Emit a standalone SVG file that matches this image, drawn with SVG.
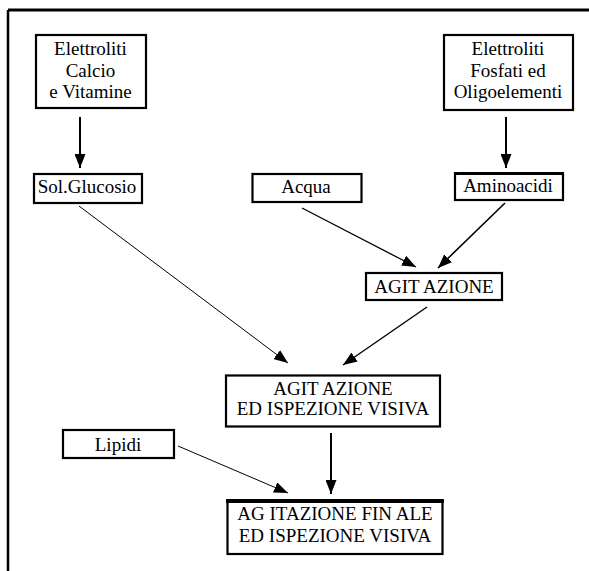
<svg xmlns="http://www.w3.org/2000/svg" width="589" height="571" viewBox="0 0 589 571">
<style>
.box{fill:#fff;stroke:#000;stroke-width:2.2}
text{font-family:'Liberation Serif','Times New Roman',Times,serif;font-size:19px;fill:#000;text-anchor:middle}
.c{stroke:#000;fill:none}
</style>
<defs>
<marker id="ah" viewBox="0 0 14 11" refX="14" refY="5.5" markerWidth="14" markerHeight="11" markerUnits="userSpaceOnUse" orient="auto">
<path d="M0,0 L14,5.5 L0,11 Z" fill="#000"/>
</marker>
</defs>
<rect width="589" height="571" fill="#fff"/>
<g id="frame">
<line x1="8" y1="10" x2="589" y2="10" stroke="#000" stroke-width="3"/>
<line x1="8" y1="10" x2="8" y2="571" stroke="#000" stroke-width="2.5"/>
</g>
<g id="connectors">
<line class="c" x1="80" y1="117" x2="80" y2="168" stroke-width="2" marker-end="url(#ah)"/>
<line class="c" x1="506" y1="117" x2="506" y2="168" stroke-width="2" marker-end="url(#ah)"/>
<line class="c" x1="79" y1="206" x2="288" y2="363" stroke-width="1" marker-end="url(#ah)"/>
<line class="c" x1="302" y1="208" x2="416" y2="267" stroke-width="1.3" marker-end="url(#ah)"/>
<line class="c" x1="505" y1="203" x2="438" y2="268" stroke-width="1.6" marker-end="url(#ah)"/>
<line class="c" x1="427" y1="307" x2="343" y2="365" stroke-width="1.4" marker-end="url(#ah)"/>
<line class="c" x1="331" y1="433" x2="331" y2="494" stroke-width="2" marker-end="url(#ah)"/>
<line class="c" x1="178" y1="446" x2="288" y2="493" stroke-width="1" marker-end="url(#ah)"/>
</g>
<g id="n-elettroliti-calcio">
<rect class="box" x="36" y="35" width="110" height="73"/>
<text x="90.5" y="55">Elettroliti</text>
<text x="90.5" y="77">Calcio</text>
<text x="90.5" y="98">e Vitamine</text>
</g>
<g id="n-elettroliti-fosfati">
<rect class="box" x="444" y="35" width="129" height="75" stroke-width="3"/>
<text x="508" y="55">Elettroliti</text>
<text x="508" y="77">Fosfati ed</text>
<text x="508" y="98">Oligoelementi</text>
</g>
<g id="n-sol-glucosio">
<rect class="box" x="34" y="174" width="108" height="29" stroke-width="2.5"/>
<text x="87" y="193">Sol.Glucosio</text>
</g>
<g id="n-acqua">
<rect class="box" x="252.5" y="174" width="109" height="28" stroke-width="2.5"/>
<text x="306" y="193">Acqua</text>
</g>
<g id="n-aminoacidi">
<rect class="box" x="455" y="173.5" width="108" height="26.5"/>
<line x1="454" y1="173.5" x2="564" y2="173.5" stroke="#000" stroke-width="3"/>
<text x="508" y="192">Aminoacidi</text>
</g>
<g id="n-agitazione">
<rect class="box" x="366" y="273" width="136" height="27"/>
<text x="434" y="293">AGIT AZIONE</text>
</g>
<g id="n-agitazione-ispezione">
<rect class="box" x="226" y="375.5" width="214" height="51"/>
<text x="333" y="395">AGIT AZIONE</text>
<text x="333" y="415">ED ISPEZIONE VISIVA</text>
</g>
<g id="n-lipidi">
<rect class="box" x="63" y="430" width="111" height="28" stroke-width="2.5"/>
<text x="118" y="451">Lipidi</text>
</g>
<g id="n-agitazione-finale">
<rect class="box" x="227.5" y="501" width="215" height="53" stroke-width="2.5"/>
<line x1="226" y1="501" x2="444" y2="501" stroke="#000" stroke-width="4"/>
<text x="335" y="520">AG ITAZIONE FIN ALE</text>
<text x="335" y="542">ED ISPEZIONE VISIVA</text>
</g>
</svg>
